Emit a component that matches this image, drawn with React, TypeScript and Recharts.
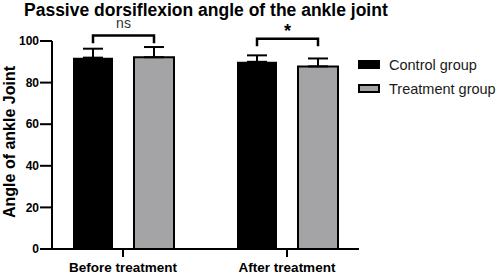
import { Bar, BarChart, ErrorBar, LabelList, Legend, XAxis, YAxis } from "recharts";

const FONT = '"Liberation Sans", Arial, Helvetica, sans-serif';

const categories = ["Before treatment", "After treatment"];
const controlMean = [92.0, 90.0];
const controlSd = [4.3, 3.1];
const treatmentMean = [92.2, 87.8];
const treatmentSd = [4.9, 3.8];
const sigLabels = ["ns", "*"];
const bracketTop = [102.7, 101.1];
const bracketFoot = [98.9, 97.5];
const yTicks = [0, 20, 40, 60, 80, 100];

const BAR_SIZE = 40;
const BAR_GAP = 21;

const data = categories.map((c, i) => ({
  name: c,
  control: controlMean[i],
  controlErr: [0, controlSd[i]],
  treatment: treatmentMean[i],
  treatmentErr: [0, treatmentSd[i]],
}));

// bracket + significance mark, drawn from the control bar's geometry
function Bracket(props: any) {
  const vb = props.viewBox ?? props;
  const { x, y, width, height } = vb;
  const i = props.index;
  const value = props.value;
  if (x == null || !value) return null;
  const k = height / value; // px per unit
  const yOf = (v: number) => y + height - v * k;
  const x1 = x + width / 2;
  const x2 = x1 + width + BAR_GAP;
  const top = yOf(bracketTop[i]);
  const foot = yOf(bracketFoot[i]);
  const mid = (x1 + x2) / 2;
  const isStar = sigLabels[i] === "*";
  return (
    <g>
      <path
        d={`M${x1},${foot} L${x1},${top} L${x2},${top} L${x2},${foot}`}
        fill="none"
        stroke="#000"
        strokeWidth={2.5}
      />
      <text
        x={mid}
        y={isStar ? top - 2 : top - 7.5}
        textAnchor="middle"
        fontFamily={FONT}
        fontSize={isStar ? 18 : 14}
        fontWeight={isStar ? 700 : 400}
        fill={isStar ? "#000" : "#333"}
      >
        {sigLabels[i]}
      </text>
    </g>
  );
}

function LegendBox(props: any) {
  const items = props.payload ?? [];
  return (
    <div style={{ fontFamily: FONT }}>
      {items.map((it: any) => {
        const grey = it.dataKey === "treatment";
        return (
          <div
            key={it.value}
            style={{ display: "flex", alignItems: "center", height: 24 }}
          >
            <div
              style={{
                width: 22,
                height: 9,
                marginLeft: 2,
                flex: "none",
                boxSizing: "border-box",
                background: it.color,
                border: grey ? "2px solid #000" : "none",
              }}
            />
            <span
              style={{
                marginLeft: 9,
                fontSize: 14.5,
                color: "#1a1a1a",
                whiteSpace: "nowrap",
              }}
            >
              {it.value}
            </span>
          </div>
        );
      })}
    </div>
  );
}

export default function App() {
  return (
    <div
      style={{
        position: "absolute",
        left: 0,
        top: 0,
        width: 500,
        height: 274,
        background: "#fff",
      }}
    >
      <div
        style={{
          position: "absolute",
          left: 24,
          top: 2,
          fontFamily: FONT,
          fontWeight: 700,
          fontSize: 17.5,
          lineHeight: "16px",
          color: "#000",
          whiteSpace: "nowrap",
        }}
      >
        Passive dorsiflexion angle of the ankle joint
      </div>
      <BarChart
        width={500}
        height={274}
        data={data}
        margin={{ top: 41, right: 1, bottom: 0, left: 0 }}
        barSize={BAR_SIZE}
        barGap={BAR_GAP}
      >
        <XAxis
          dataKey="name"
          height={25}
          padding={{ left: -11, right: -10 }}
          axisLine={{ stroke: "#000", strokeWidth: 2 }}
          tickLine={{ stroke: "#000", strokeWidth: 2 }}
          tickSize={8}
          tickMargin={5}
          tick={{ fill: "#000", fontSize: 13.5, fontWeight: 700, fontFamily: FONT }}
        />
        <YAxis
          width={52}
          domain={[0, 100]}
          ticks={yTicks}
          interval={0}
          axisLine={{ stroke: "#000", strokeWidth: 2 }}
          tickLine={{ stroke: "#000", strokeWidth: 2 }}
          tickSize={12}
          tickMargin={1}
          tick={{ fill: "#000", fontSize: 12, fontWeight: 700, fontFamily: FONT }}
          label={{
            content: (p: any) => {
              const vb = p.viewBox;
              const cy = vb.y + vb.height / 2 - 3;
              return (
                <text
                  transform={`translate(15,${cy}) rotate(-90)`}
                  textAnchor="middle"
                  fontFamily={FONT}
                  fontSize={16}
                  fontWeight={700}
                  fill="#000"
                >
                  Angle of ankle Joint
                </text>
              );
            },
          }}
        />
        <Legend
          layout="vertical"
          align="right"
          verticalAlign="top"
          content={LegendBox}
          wrapperStyle={{ width: 140, left: 356, top: 52.5 }}
        />
        <Bar
          dataKey="control"
          name="Control group"
          fill="#000"
          isAnimationActive={false}
        >
          <ErrorBar dataKey="controlErr" width={10} stroke="#000" strokeWidth={2} />
          <LabelList dataKey="control" content={Bracket} />
        </Bar>
        <Bar
          dataKey="treatment"
          name="Treatment group"
          fill="#a4a4a6"
          stroke="#000"
          strokeWidth={2}
          isAnimationActive={false}
        >
          <ErrorBar dataKey="treatmentErr" width={10} stroke="#000" strokeWidth={2} />
        </Bar>
      </BarChart>
    </div>
  );
}
